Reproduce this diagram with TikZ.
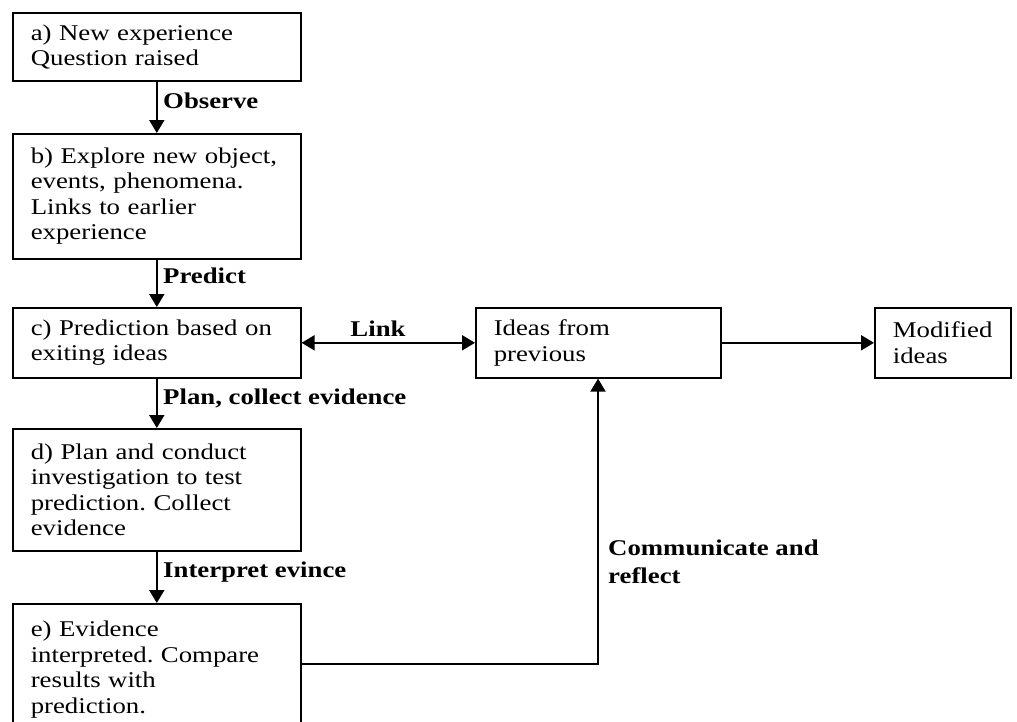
\documentclass[tikz,border=0pt]{standalone}
\usepackage{fontspec}
\setmainfont{Liberation Serif}[FakeStretch=1.19]
\usetikzlibrary{arrows.meta}
\frenchspacing
\begin{document}
\begin{tikzpicture}[x=1pt,y=-1pt,
  box/.style={draw, line width=1.6pt, rectangle, anchor=north west, align=left,
    inner xsep=18pt, inner ysep=0pt, font=\fontsize{22.5}{25.5}\selectfont},
  lbl/.style={font=\bfseries\fontsize{22.5}{27.5}\selectfont, anchor=west, inner sep=0pt, align=left},
  arr/.style={line width=2pt, -{Triangle[length=13pt,width=15pt]}},
  darr/.style={line width=2pt, {Triangle[length=13pt,width=15pt]}-{Triangle[length=13pt,width=15pt]}},
  conn/.style={line width=2pt}
]
\useasboundingbox (0,0) rectangle (1017,721);
\begin{scope}
\clip (0,0) rectangle (1017,721);
\node[box, minimum width=288pt, minimum height=68pt, text width=252pt] (a) at (12,12)
  {a) New experience\\Question raised};
\node[box, minimum width=288pt, minimum height=125pt, text width=252pt] (b) at (12,133)
  {b) Explore new object,\\events, phenomena.\\Links to earlier\\experience};
\node[box, minimum width=288pt, minimum height=70pt, text width=252pt] (c) at (12,307)
  {c) Prediction based on\\exiting ideas};
\node[box, minimum width=288pt, minimum height=122pt, text width=252pt] (d) at (12,428)
  {d) Plan and conduct\\investigation to test\\prediction. Collect\\evidence};
\node[box, minimum width=288pt, minimum height=132pt, text width=252pt] (e) at (12,603)
  {e) Evidence\\interpreted. Compare\\results with\\prediction.};
\node[box, minimum width=245pt, minimum height=70pt, text width=209pt] (ideas) at (475,307)
  {Ideas from\\previous};
\node[box, minimum width=136pt, minimum height=70pt, text width=100pt] (mod) at (874,307)
  {Modified\\ideas};

\draw[arr] (a.south) -- (b.north);
\draw[arr] (b.south) -- (c.north);
\draw[arr] (c.south) -- (d.north);
\draw[arr] (d.south) -- (e.north);
\draw[darr] (c.east) -- (ideas.west);
\draw[arr] (ideas.east) -- (mod.west);
\coordinate (turn) at (598,664);
\draw[arr] (e.east |- turn) -- (turn) -- (ideas.south -| turn);

\node[lbl] (lobs) at (163,101) {Observe};
\node[lbl] (lpred) at (163,276) {Predict};
\node[lbl] (lplan) at (163,398) {Plan, collect evidence};
\node[lbl] (linterp) at (163,572) {Interpret evince};
\node[lbl, anchor=center] (llink) at (378,329) {Link};
\node[lbl] (lcomm) at (608,562) {Communicate and\\reflect};
\end{scope}
\end{tikzpicture}
\end{document}
